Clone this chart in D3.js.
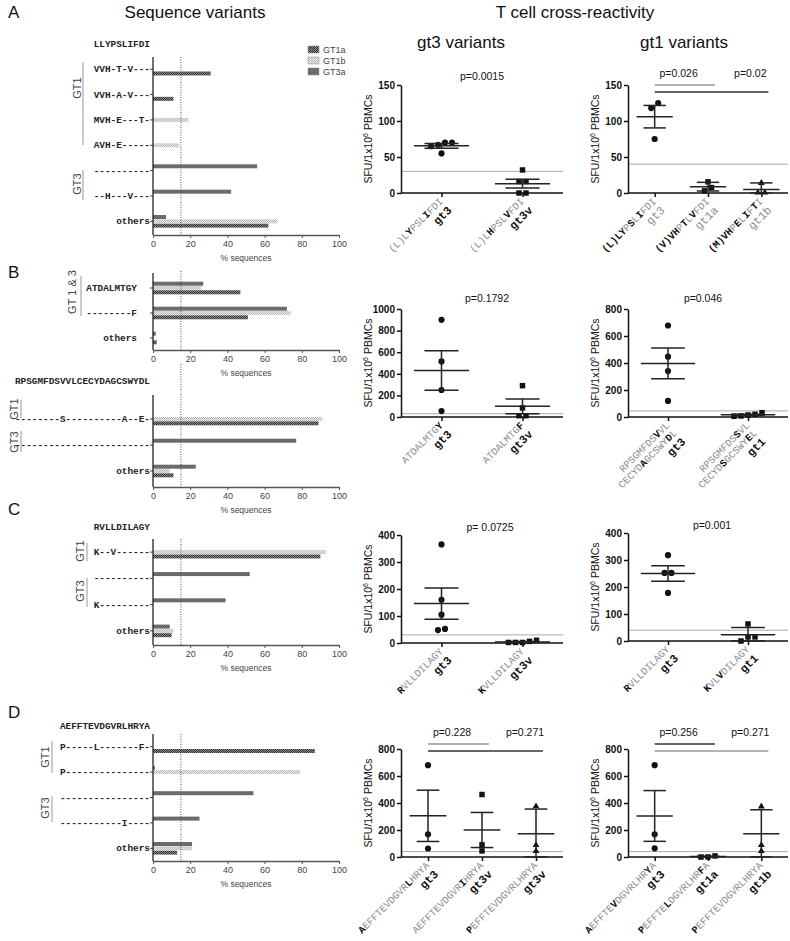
<!DOCTYPE html>
<html><head><meta charset="utf-8">
<script src="https://cdn.jsdelivr.net/npm/d3@7"></script>
<style>body{margin:0;background:#fff} svg{display:block}</style>
</head><body><svg id="c" width="790" height="941"></svg>
<script>
// ================= DATA =================
const seriesNames = ["GT1a", "GT1b", "GT3a"];
const pctTicks = [0, 20, 40, 60, 80, 100];
const cutoffPct = 15;

// Panel A – sequence variants
const aHeader = "LLYPSLIFDI";
const aRows = ["VVH-T-V---", "VVH-A-V---", "MVH-E---T-", "AVH-E-----", "----------", "--H---V---", "others"];
const aGT1a = [31, 11, 0, 0, 0, 0, 62];
const aGT1b = [0, 0, 19, 14, 0, 0, 67];
const aGT3a = [0, 0, 0, 0, 56, 42, 7];

// Panel B (top) – sequence variants
const b1Rows = ["ATDALMTGY", "--------F", "others"];
const b1GT1a = [47, 51, 2];
const b1GT1b = [26, 74, 0];
const b1GT3a = [27, 72, 1.5];

// Panel B (bottom) – sequence variants
const b2Header = "RPSGMFDSVVLCECYDAGCSWYDL";
const b2Rows = ["--------S----------A--E-", "------------------------", "others"];
const b2GT1a = [89, 0, 11];
const b2GT1b = [91, 0, 9];
const b2GT3a = [0, 77, 23];

// Panel C – sequence variants
const cHeader = "RVLLDILAGY";
const cRows = ["K--V------", "----------", "K---------", "others"];
const cGT1a = [90, 0, 0, 10];
const cGT1b = [93, 0, 0, 11];
const cGT3a = [0, 52, 39, 9];

// Panel D – sequence variants
const dHeader = "AEFFTEVDGVRLHRYA";
const dRows = ["P-----L-------F-", "P---------------", "----------------", "-----------I----", "others"];
const dGT1a = [87, 0, 0, 0, 13];
const dGT1b = [0, 79, 0, 0, 21];
const dGT3a = [0, 1, 54, 25, 21];

// T cell cross-reactivity (SFU/1x10^6 PBMCs); *X* = bold residue
const aMidCats = ["gt3", "gt3v"];
const aMidSeqs = [["(L)L*Y*PSL*I*FDI"], ["(L)L*H*PSL*V*FDI"]];
const aMidVals = [[70, 67, 65, 70, 55], [32, 16, 16, 0, 0]];
const aMidMean = [65.5, 13];
const aMidErr = [3.2, 6];
const aMidTicks = [0, 50, 100, 150];
const aMidThr = 30;
const aMidP = ["p=0.0015"];

const aRightCats = ["gt3", "gt1a", "gt1b"];
const aRightSeqs = [["*(L)LY*P*S*L*I*FDI"], ["*(V)VH*P*T*L*V*FDI"], ["*(M)VH*P*E*L*I*F*T*I"]];
const aRightVals = [[125, 118, 75], [15.5, 7.5, 3], [14, 0.5, 0.5]];
const aRightMean = [106, 8.8, 5];
const aRightErr = [15.6, 6, 9];
const aRightTicks = [0, 50, 100, 150];
const aRightThr = 40;
const aRightP = ["p=0.026", "p=0.02"];

const bMidCats = ["gt3", "gt3v"];
const bMidSeqs = [["ATDALMTG*Y*"], ["ATDALMTG*F*"]];
const bMidVals = [[900, 515, 250, 55], [290, 84, 12, 12]];
const bMidMean = [430, 99];
const bMidErr = [183, 68];
const bMidTicks = [0, 200, 400, 600, 800, 1000];
const bMidThr = 30;
const bMidP = ["p=0.1792"];

const bRightCats = ["gt3", "gt1"];
const bRightSeqs = [["RPSGMFDS*V*VL", "CECYD*A*GCSWY*D*L"], ["RPSGMFDS*S*VL", "CECYD*S*GCSWY*E*L"]];
const bRightVals = [[678, 447, 340, 119], [32, 20, 15, 8, 5]];
const bRightMean = [397, 16];
const bRightErr = [114, 5];
const bRightTicks = [0, 200, 400, 600, 800];
const bRightThr = 45;
const bRightP = ["p=0.046"];

const cMidCats = ["gt3", "gt3v"];
const cMidSeqs = [["*R*VLLDILAGY"], ["*K*VLLDILAGY"]];
const cMidVals = [[365, 160, 105, 48, 52], [10, 2, 2, 2, 6]];
const cMidMean = [146, 4];
const cMidErr = [58, 2];
const cMidTicks = [0, 100, 200, 300, 400];
const cMidThr = 30;
const cMidP = ["p= 0.0725"];

const cRightCats = ["gt3", "gt1"];
const cRightSeqs = [["*R*VLLDILAGY"], ["*K*VL*V*DILAGY"]];
const cRightVals = [[318, 252, 252, 178], [63, 15, 15, 0]];
const cRightMean = [250, 23];
const cRightErr = [29, 27];
const cRightTicks = [0, 100, 200, 300, 400];
const cRightThr = 40;
const cRightP = ["p=0.001"];

const dMidCats = ["gt3", "gt3v", "gt3v"];
const dMidSeqs = [["*A*EFFTEVDGVR*L*HRYA"], ["AEFFTEVDGVR*I*HRYA"], ["*P*EFFTEVDGVRLHRYA"]];
const dMidVals = [[680, 168, 63], [463, 90, 45], [375, 88, 45]];
const dMidMean = [305, 200, 172];
const dMidErr = [190, 130, 183];
const dMidTicks = [0, 200, 400, 600, 800];
const dMidThr = 40;
const dMidP = ["p=0.228", "p=0.271"];

const dRightCats = ["gt3", "gt1a", "gt1b"];
const dRightSeqs = [["*A*EFFTE*V*DGVRLHR*Y*A"], ["*P*EFFTE*L*DGVRLHR*F*A"], ["*P*EFFTEVDGVRLHRYA"]];
const dRightVals = [[680, 168, 64], [8, 0, 0], [374, 89, 45]];
const dRightMean = [304, 3, 173];
const dRightErr = [188, 3, 177];
const dRightTicks = [0, 200, 400, 600, 800];
const dRightThr = 40;
const dRightP = ["p=0.256", "p=0.271"];

// ================= DRAWING =================
const SANS = "'Liberation Sans', Arial, sans-serif";
const MONO = "'Liberation Mono', 'Courier New', monospace";
const svg = d3.select("#c");
const defs = svg.append("defs");
function pattern(id, bg, fg) {
  const p = defs.append("pattern").attr("id", id).attr("width", 2).attr("height", 2).attr("patternUnits", "userSpaceOnUse");
  p.append("rect").attr("width", 2).attr("height", 2).attr("fill", bg);
  p.append("rect").attr("width", 1).attr("height", 1).attr("fill", fg);
  p.append("rect").attr("x", 1).attr("y", 1).attr("width", 1).attr("height", 1).attr("fill", fg);
}
pattern("pGT1a", "#8a8a8a", "#333");
pattern("pGT1b", "#ececec", "#b8b8b8");
const fills = { GT1a: "url(#pGT1a)", GT1b: "url(#pGT1b)", GT3a: "#6b6b6b" };
const slotOf = { GT3a: -1, GT1b: 0, GT1a: 1 };

function txt(x, y, s, size, opts = {}) {
  return svg.append("text").attr("x", x).attr("y", y).text(s)
    .attr("font-family", opts.font || SANS).attr("font-size", size)
    .attr("text-anchor", opts.anchor || "start").attr("fill", opts.fill || "#111")
    .attr("font-weight", opts.weight || "normal");
}
txt(8, 18, "A", 17);
txt(195, 18, "Sequence variants", 17, { anchor: "middle" });
txt(575, 18, "T cell cross-reactivity", 17, { anchor: "middle" });
txt(461, 48, "gt3 variants", 17, { anchor: "middle" });
txt(684, 48, "gt1 variants", 17, { anchor: "middle" });
txt(8, 278, "B", 17);
txt(8, 515, "C", 17);
txt(8, 718, "D", 17);

// ---------- horizontal bar panels ----------
function barPanel(cfg) {
  const g = svg.append("g");
  const x = d3.scaleLinear().domain([0, 100]).range([153, 339]);
  const y = d3.scaleBand().domain(cfg.rows).range([cfg.bandTop, cfg.bandBot]);
  seriesNames.forEach(s => {
    const data = cfg.rows.map((r, i) => ({ r, v: cfg.values[s][i] })).filter(d => d.v > 0);
    g.selectAll(null).data(data).join("rect")
      .attr("x", x(0)).attr("width", d => x(d.v) - x(0))
      .attr("y", d => y(d.r) + y.bandwidth() / 2 + slotOf[s] * 4.3 - 2)
      .attr("height", 4).attr("fill", fills[s]);
  });
  g.append("line").attr("x1", x(cutoffPct)).attr("x2", x(cutoffPct))
    .attr("y1", cfg.dotTop).attr("y2", cfg.axisBot)
    .attr("stroke", "#555").attr("stroke-width", 1).attr("stroke-dasharray", "1,1.5");
  const ya = g.append("g").attr("transform", `translate(${x(0)},0)`)
    .call(d3.axisLeft(y).tickSize(3).tickPadding(cfg.pad || 0).tickSizeOuter(0));
  ya.select(".domain").remove();
  g.append("line").attr("x1", x(0)).attr("x2", x(0)).attr("y1", cfg.axisTop).attr("y2", cfg.axisBot).attr("stroke", "#222").attr("stroke-width", 1.3);
  ya.selectAll(".tick line").attr("stroke", "#444");
  ya.selectAll(".tick text").attr("font-family", MONO).attr("font-weight", "bold").attr("font-size", 9.4).attr("fill", "#222");
  const xa = g.append("g").attr("transform", `translate(0,${cfg.axisBot})`)
    .call(d3.axisBottom(x).tickValues(pctTicks).tickSize(3).tickSizeOuter(0));
  xa.select(".domain").attr("stroke", "#555").attr("stroke-width", 1.3);
  xa.selectAll(".tick line").attr("stroke", "#555");
  xa.selectAll(".tick text").attr("font-family", SANS).attr("font-size", 9).attr("fill", "#444");
  g.append("text").attr("x", 246).attr("y", cfg.axisBot + 26).attr("text-anchor", "middle")
    .attr("font-family", SANS).attr("font-size", 8.5).attr("fill", "#444").text("% sequences");
  if (cfg.header) {
    g.append("text").attr("x", 150 - (cfg.pad || 0)).attr("y", cfg.headerY).attr("text-anchor", "end")
      .attr("font-family", MONO).attr("font-weight", "bold").attr("font-size", 9.4).attr("fill", "#222").text(cfg.header);
  }
  (cfg.groups || []).forEach(gr => {
    g.append("line").attr("x1", gr.lx).attr("x2", gr.lx).attr("y1", gr.y1).attr("y2", gr.y2)
      .attr("stroke", "#aaa").attr("stroke-width", 1.2);
    g.append("text").attr("transform", `translate(${gr.tx},${gr.ty}) rotate(-90)`)
      .attr("text-anchor", "middle").attr("font-family", SANS).attr("font-size", 11).attr("fill", "#444").text(gr.name);
  });
}

barPanel({ rows: aRows, values: { GT1a: aGT1a, GT1b: aGT1b, GT3a: aGT3a }, bandTop: 56.5, bandBot: 234,
  axisTop: 57, axisBot: 235, dotTop: 57, header: aHeader, headerY: 47,
  groups: [{ name: "GT1", lx: 83, y1: 62, y2: 145, tx: 81, ty: 88 }, { name: "GT3", lx: 83, y1: 170, y2: 200, tx: 81, ty: 184 }] });
barPanel({ rows: b1Rows, values: { GT1a: b1GT1a, GT1b: b1GT1b, GT3a: b1GT3a }, bandTop: 275.5, bandBot: 350.5,
  axisTop: 273, axisBot: 350, dotTop: 271, pad: 13,
  groups: [{ name: "GT 1 & 3", lx: 81, y1: 276, y2: 316, tx: 76, ty: 292 }] });
barPanel({ rows: b2Rows, values: { GT1a: b2GT1a, GT1b: b2GT1b, GT3a: b2GT3a }, bandTop: 406, bandBot: 484,
  axisTop: 395, axisBot: 487, dotTop: 364, header: b2Header, headerY: 384,
  groups: [{ name: "GT1", lx: 21, y1: 400, y2: 418, tx: 18, ty: 409 }, { name: "GT3", lx: 21, y1: 431, y2: 452, tx: 18, ty: 442 }] });
barPanel({ rows: cRows, values: { GT1a: cGT1a, GT1b: cGT1b, GT3a: cGT3a }, bandTop: 539, bandBot: 644,
  axisTop: 539, axisBot: 645, dotTop: 539, header: cHeader, headerY: 530,
  groups: [{ name: "GT1", lx: 87, y1: 543, y2: 561, tx: 84, ty: 551 }, { name: "GT3", lx: 87, y1: 578, y2: 607, tx: 84, ty: 591 }] });
barPanel({ rows: dRows, values: { GT1a: dGT1a, GT1b: dGT1b, GT3a: dGT3a }, bandTop: 734, bandBot: 861,
  axisTop: 734, axisBot: 861, dotTop: 734, header: dHeader, headerY: 729,
  groups: [{ name: "GT1", lx: 52, y1: 741, y2: 773, tx: 49, ty: 757 }, { name: "GT3", lx: 52, y1: 796, y2: 822, tx: 49, ty: 808 }] });

seriesNames.forEach((s, i) => {
  svg.append("rect").attr("x", 308).attr("y", 46 + i * 11).attr("width", 11).attr("height", 7).attr("fill", fills[s]).attr("stroke", "#888").attr("stroke-width", 0.5);
  txt(323, 53 + i * 11, s, 9, { fill: "#444" });
});

// ---------- dot plots ----------
function markerPath(i) {
  const t = [d3.symbolCircle, d3.symbolSquare, d3.symbolTriangle][i];
  const size = [30, 30, 20][i];
  return d3.symbol(t, size)();
}
function dotPanel(cfg) {
  const g = svg.append("g");
  const idx = cfg.cats.map((c, i) => i);
  const x = d3.scalePoint().domain(idx).range([cfg.x0, cfg.x1]).padding(0.5);
  const yMax = cfg.ticks[cfg.ticks.length - 1];
  const y = d3.scaleLinear().domain([0, yMax]).range([cfg.yBot, cfg.yBot - 108]);
  const step = x.step();
  g.append("line").attr("x1", cfg.x0).attr("x2", cfg.x1).attr("y1", y(cfg.thr)).attr("y2", y(cfg.thr))
    .attr("stroke", "#aaa").attr("stroke-width", 1);
  const ya = g.append("g").attr("transform", `translate(${cfg.x0},0)`)
    .call(d3.axisLeft(y).tickValues(cfg.ticks).tickFormat(d3.format("d")).tickSize(4).tickPadding(2).tickSizeOuter(0));
  ya.select(".domain").attr("stroke", "#111").attr("stroke-width", 1.5);
  ya.selectAll(".tick line").attr("stroke", "#111").attr("stroke-width", 1.5);
  ya.selectAll(".tick text").attr("font-family", SANS).attr("font-weight", "bold").attr("font-size", 10).attr("fill", "#111");
  const xa = g.append("g").attr("transform", `translate(0,${cfg.yBot})`)
    .call(d3.axisBottom(x).tickSize(4).tickFormat("").tickSizeOuter(0));
  xa.select(".domain").attr("stroke", "#111").attr("stroke-width", 1.5).attr("d", `M${cfg.x0},0H${cfg.x1}`);
  xa.selectAll(".tick line").attr("stroke", "#111").attr("stroke-width", 1.5);
  const yl = g.append("text").attr("transform", `translate(${cfg.x0 - 29},${cfg.yBot - 54}) rotate(-90)`)
    .attr("text-anchor", "middle").attr("font-family", SANS).attr("font-size", 10.5).attr("fill", "#111");
  yl.append("tspan").text("SFU/1x10");
  yl.append("tspan").text("6").attr("font-size", 7).attr("dy", -4);
  yl.append("tspan").text(" PBMCs").attr("dy", 4);
  cfg.vals.forEach((vals, ci) => {
    const sorted = vals.slice().sort((a, b) => a - b);
    const clusters = [];
    sorted.forEach(v => {
      const last = clusters[clusters.length - 1];
      if (last && Math.abs(y(v) - y(last[last.length - 1])) < 5.5) last.push(v); else clusters.push([v]);
    });
    const pts = [];
    clusters.forEach(cl => cl.forEach((v, k) => pts.push({ v, dx: (k - (cl.length - 1) / 2) * 7 })));
    g.selectAll(null).data(pts).join("path")
      .attr("d", markerPath(ci))
      .attr("transform", d => `translate(${x(ci) + d.dx},${y(d.v)})`).attr("fill", "#111");
    const m = cfg.mean[ci], e = cfg.err[ci];
    const cx = x(ci), mw = step * 0.34, cw = step * 0.21;
    const lo = Math.max(0, m - e), hi = m + e;
    const ln = (x1, y1, x2, y2) => g.append("line").attr("x1", x1).attr("x2", x2).attr("y1", y1).attr("y2", y2).attr("stroke", "#222").attr("stroke-width", 1.5);
    ln(cx - mw, y(m), cx + mw, y(m));
    ln(cx, y(lo), cx, y(hi));
    ln(cx - cw, y(hi), cx + cw, y(hi));
    ln(cx - cw, y(lo), cx + cw, y(lo));
    const lg = g.append("g").attr("transform", `translate(${cx + 2},${cfg.yBot + 9}) rotate(-45)`);
    cfg.seqs[ci].forEach((line, li) => {
      const t = lg.append("text").attr("x", 0).attr("y", li * 10.5).attr("text-anchor", "end").attr("font-family", MONO).attr("font-size", 10);
      line.split("*").forEach((seg, j) => {
        if (!seg) return;
        t.append("tspan").text(seg).attr("font-weight", j % 2 ? "bold" : "normal").attr("fill", j % 2 ? "#111" : "#8c8c8c");
      });
    });
    lg.append("text").attr("x", 0).attr("y", cfg.seqs[ci].length * 10.5 + 2).attr("text-anchor", "end").attr("font-family", MONO)
      .attr("font-size", 11.5).attr("font-weight", cfg.genoGrey ? "normal" : "bold").attr("fill", cfg.genoGrey ? "#8c8c8c" : "#111")
      .text(cfg.cats[ci]);
  });
  if (cfg.p.length === 1) {
    g.append("text").attr("x", cfg.pX).attr("y", cfg.pY).attr("text-anchor", "middle").attr("font-family", SANS).attr("font-size", 10.5).attr("fill", "#111").text(cfg.p[0]);
  } else {
    const x0 = x(0);
    g.append("text").attr("x", x0 + 24).attr("y", cfg.pY).attr("text-anchor", "middle").attr("font-family", SANS).attr("font-size", 10.5).attr("fill", "#111").text(cfg.p[0]);
    g.append("text").attr("x", x(2) - 11).attr("y", cfg.pY).attr("text-anchor", "middle").attr("font-family", SANS).attr("font-size", 10.5).attr("fill", "#111").text(cfg.p[1]);
    g.append("line").attr("x1", x0).attr("x2", x(1) + 7).attr("y1", cfg.pY + 8).attr("y2", cfg.pY + 8).attr("stroke", cfg.pCols[0]).attr("stroke-width", 1.3);
    g.append("line").attr("x1", x0).attr("x2", x(2) + 7).attr("y1", cfg.pY + 15).attr("y2", cfg.pY + 15).attr("stroke", cfg.pCols[1]).attr("stroke-width", 1.3);
  }
}

dotPanel({ cats: aMidCats, seqs: aMidSeqs, vals: aMidVals, mean: aMidMean, err: aMidErr, ticks: aMidTicks, thr: aMidThr, p: aMidP,
  x0: 401, x1: 563, yBot: 193, pX: 482, pY: 80 });
dotPanel({ cats: aRightCats, seqs: aRightSeqs, vals: aRightVals, mean: aRightMean, err: aRightErr, ticks: aRightTicks, thr: aRightThr, p: aRightP,
  x0: 628, x1: 788, yBot: 193, pY: 77, pCols: ["#999", "#333"], genoGrey: true });
dotPanel({ cats: bMidCats, seqs: bMidSeqs, vals: bMidVals, mean: bMidMean, err: bMidErr, ticks: bMidTicks, thr: bMidThr, p: bMidP,
  x0: 401, x1: 563, yBot: 417, pX: 487, pY: 302 });
dotPanel({ cats: bRightCats, seqs: bRightSeqs, vals: bRightVals, mean: bRightMean, err: bRightErr, ticks: bRightTicks, thr: bRightThr, p: bRightP,
  x0: 628, x1: 788, yBot: 417, pX: 703, pY: 302 });
dotPanel({ cats: cMidCats, seqs: cMidSeqs, vals: cMidVals, mean: cMidMean, err: cMidErr, ticks: cMidTicks, thr: cMidThr, p: cMidP,
  x0: 401, x1: 563, yBot: 643, pX: 490, pY: 531 });
dotPanel({ cats: cRightCats, seqs: cRightSeqs, vals: cRightVals, mean: cRightMean, err: cRightErr, ticks: cRightTicks, thr: cRightThr, p: cRightP,
  x0: 628, x1: 788, yBot: 641, pX: 712, pY: 529 });
dotPanel({ cats: dMidCats, seqs: dMidSeqs, vals: dMidVals, mean: dMidMean, err: dMidErr, ticks: dMidTicks, thr: dMidThr, p: dMidP,
  x0: 401, x1: 563, yBot: 857, pY: 736, pCols: ["#999", "#333"] });
dotPanel({ cats: dRightCats, seqs: dRightSeqs, vals: dRightVals, mean: dRightMean, err: dRightErr, ticks: dRightTicks, thr: dRightThr, p: dRightP,
  x0: 628, x1: 788, yBot: 857, pY: 736, pCols: ["#333", "#999"] });
</script></body></html>
